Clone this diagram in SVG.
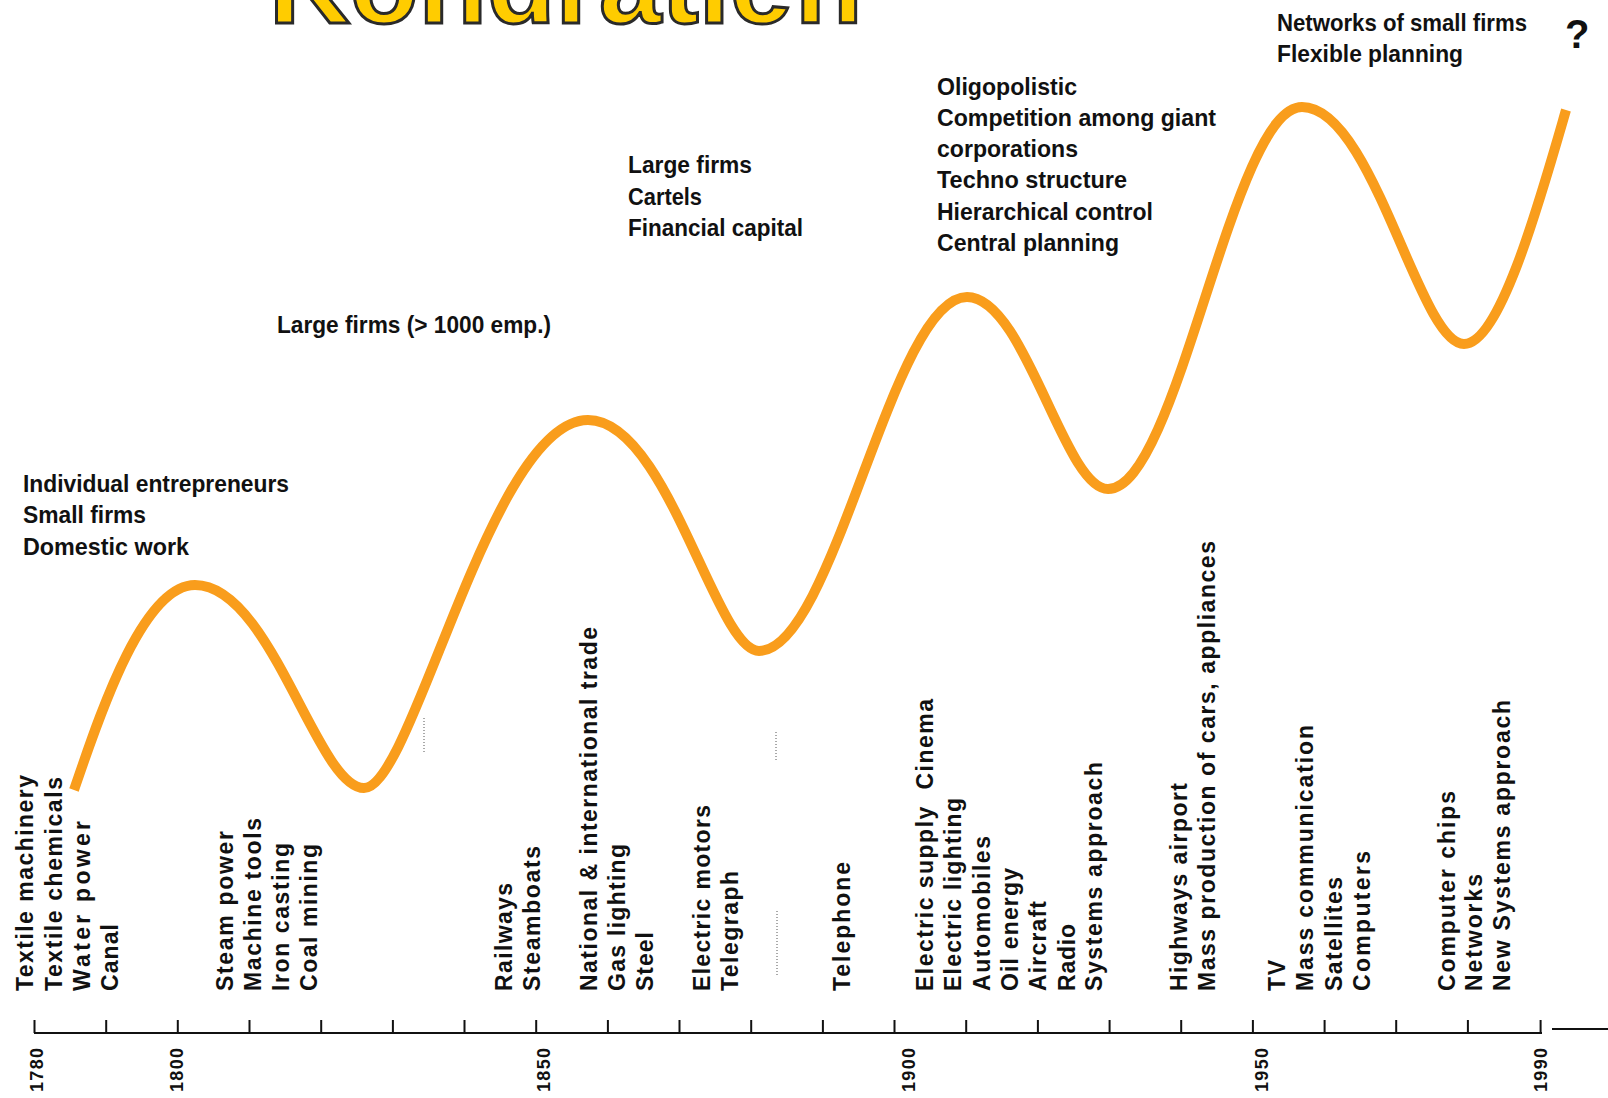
<svg xmlns="http://www.w3.org/2000/svg" width="1608" height="1098" viewBox="0 0 1608 1098">
  <style>
    .lbl { font-family: "Liberation Sans", Arial, sans-serif; font-weight: bold; font-size: 24px; fill: #111; }
    .q { font-family: "Liberation Sans", Arial, sans-serif; font-weight: bold; font-size: 40px; fill: #111; }
    .vl { font-family: "Liberation Sans", Arial, sans-serif; font-weight: bold; font-size: 23px; fill: #111; white-space: pre; }
    .yr { font-family: "Liberation Sans", Arial, sans-serif; font-weight: bold; font-size: 18px; fill: #111; }
    .title { font-family: "Liberation Sans", Arial, sans-serif; font-weight: 900; font-size: 112px; fill: #FFCC00; stroke: #2a2a2a; stroke-width: 3px; }
    .wave { fill: none; stroke: #F99D1C; stroke-width: 10; stroke-linejoin: round; }
    .axis { stroke: #111; stroke-width: 2; fill: none; }
    .dots { stroke: #555; stroke-width: 1; stroke-dasharray: 1 2; }
  </style>
  <rect width="1608" height="1098" fill="#ffffff"/>

  <!-- heading, mostly above the top edge -->
  <g id="title">
    <text class="title" x="269" y="23" textLength="598" lengthAdjust="spacingAndGlyphs">Kondratieff</text>
  </g>

  <!-- long-wave curve, time axis and markers -->
  <g id="connectors">
    <path id="wave" class="wave" d="M 74 790 C 95 730, 140 585, 195 585 C 271 585, 317 788, 364 788 C 413 788, 491 420, 588 420 C 667 420, 716 651, 759 651 C 834 651, 892 297, 967 297 C 1025 297, 1064 489, 1108 489 C 1178 489, 1232 107, 1302 107 C 1373 107, 1419 344, 1464 344 C 1500 344, 1540 200, 1566 110"/>
    <g id="time-axis">
      <line class="axis" x1="34" y1="1033" x2="1542" y2="1033"/>
      <line class="axis" x1="1552" y1="1029" x2="1608" y2="1029" stroke-width="1.5"/>
      <path class="axis" d="M34.5 1020V1033 M106.2 1020V1033 M177.8 1020V1033 M249.5 1020V1033 M321.2 1020V1033 M392.9 1020V1033 M464.5 1020V1033 M536.2 1020V1033 M607.9 1020V1033 M679.5 1020V1033 M751.2 1020V1033 M822.9 1020V1033 M894.5 1020V1033 M966.2 1020V1033 M1037.9 1020V1033 M1109.6 1020V1033 M1181.2 1020V1033 M1252.9 1020V1033 M1324.6 1020V1033 M1396.2 1020V1033 M1467.9 1020V1033 M1540.6 1020V1033"/>
    </g>
    <g id="dotted-markers">
      <line class="dots" x1="424" y1="718" x2="424" y2="753"/>
      <line class="dots" x1="776" y1="732" x2="776" y2="762"/>
      <line class="dots" x1="777" y1="911" x2="777" y2="977"/>
    </g>
  </g>

  <!-- organisation of firms per wave -->
  <g id="org-1780">
    <text class="lbl" x="23" y="492" textLength="266" lengthAdjust="spacingAndGlyphs">Individual entrepreneurs</text>
    <text class="lbl" x="23" y="523" textLength="123" lengthAdjust="spacingAndGlyphs">Small firms</text>
    <text class="lbl" x="23" y="555" textLength="166" lengthAdjust="spacingAndGlyphs">Domestic work</text>
  </g>
  <g id="org-1830">
    <text class="lbl" x="277" y="333" textLength="274" lengthAdjust="spacingAndGlyphs">Large firms (&gt; 1000 emp.)</text>
  </g>
  <g id="org-1880">
    <text class="lbl" x="628" y="173" textLength="124" lengthAdjust="spacingAndGlyphs">Large firms</text>
    <text class="lbl" x="628" y="205" textLength="74" lengthAdjust="spacingAndGlyphs">Cartels</text>
    <text class="lbl" x="628" y="236" textLength="175" lengthAdjust="spacingAndGlyphs">Financial capital</text>
  </g>
  <g id="org-1930">
    <text class="lbl" x="937" y="95" textLength="140" lengthAdjust="spacingAndGlyphs">Oligopolistic</text>
    <text class="lbl" x="937" y="126" textLength="279" lengthAdjust="spacingAndGlyphs">Competition among giant</text>
    <text class="lbl" x="937" y="157" textLength="141" lengthAdjust="spacingAndGlyphs">corporations</text>
    <text class="lbl" x="937" y="188" textLength="190" lengthAdjust="spacingAndGlyphs">Techno structure</text>
    <text class="lbl" x="937" y="220" textLength="216" lengthAdjust="spacingAndGlyphs">Hierarchical control</text>
    <text class="lbl" x="937" y="251" textLength="182" lengthAdjust="spacingAndGlyphs">Central planning</text>
  </g>
  <g id="org-1990">
    <text class="lbl" x="1277" y="31" textLength="250" lengthAdjust="spacingAndGlyphs">Networks of small firms</text>
    <text class="lbl" x="1277" y="62" textLength="186" lengthAdjust="spacingAndGlyphs">Flexible planning</text>
    <text class="q" x="1565" y="48">?</text>
  </g>

  <!-- key technologies, read bottom to top -->
  <g id="tech-1780">
    <text class="vl" transform="translate(33 991) rotate(-90)" textLength="216">Textile machinery</text>
    <text class="vl" transform="translate(62 991) rotate(-90)" textLength="214">Textile chemicals</text>
    <text class="vl" transform="translate(90 991) rotate(-90)" textLength="170">Water power</text>
    <text class="vl" transform="translate(118 991) rotate(-90)" textLength="67">Canal</text>
  </g>
  <g id="tech-1810">
    <text class="vl" transform="translate(233 991) rotate(-90)" textLength="160">Steam power</text>
    <text class="vl" transform="translate(261 991) rotate(-90)" textLength="173">Machine tools</text>
    <text class="vl" transform="translate(289 991) rotate(-90)" textLength="148">Iron casting</text>
    <text class="vl" transform="translate(317 991) rotate(-90)" textLength="147">Coal mining</text>
  </g>
  <g id="tech-1845">
    <text class="vl" transform="translate(512 991) rotate(-90)" textLength="108">Railways</text>
    <text class="vl" transform="translate(540 991) rotate(-90)" textLength="145">Steamboats</text>
  </g>
  <g id="tech-1855">
    <text class="vl" transform="translate(597 991) rotate(-90)" textLength="364">National &amp; international trade</text>
    <text class="vl" transform="translate(625 991) rotate(-90)" textLength="147">Gas lighting</text>
    <text class="vl" transform="translate(653 991) rotate(-90)" textLength="59">Steel</text>
  </g>
  <g id="tech-1870">
    <text class="vl" transform="translate(710 991) rotate(-90)" textLength="186">Electric motors</text>
    <text class="vl" transform="translate(738 991) rotate(-90)" textLength="120">Telegraph</text>
  </g>
  <g id="tech-1890">
    <text class="vl" transform="translate(850 991) rotate(-90)" textLength="129">Telephone</text>
  </g>
  <g id="tech-1900">
    <text class="vl" transform="translate(933 991) rotate(-90)" textLength="292">Electric supply  Cinema</text>
    <text class="vl" transform="translate(961 991) rotate(-90)" textLength="193">Electric lighting</text>
    <text class="vl" transform="translate(990 991) rotate(-90)" textLength="155">Automobiles</text>
    <text class="vl" transform="translate(1018 991) rotate(-90)" textLength="123">Oil energy</text>
    <text class="vl" transform="translate(1046 991) rotate(-90)" textLength="90">Aircraft</text>
    <text class="vl" transform="translate(1075 991) rotate(-90)" textLength="67">Radio</text>
    <text class="vl" transform="translate(1102 991) rotate(-90)" textLength="229">Systems approach</text>
  </g>
  <g id="tech-1940">
    <text class="vl" transform="translate(1187 991) rotate(-90)" textLength="208">Highways airport</text>
    <text class="vl" transform="translate(1215 991) rotate(-90)" textLength="450">Mass production of cars, appliances</text>
  </g>
  <g id="tech-1950">
    <text class="vl" transform="translate(1285 991) rotate(-90)" textLength="31">TV</text>
    <text class="vl" transform="translate(1313 991) rotate(-90)" textLength="266">Mass communication</text>
    <text class="vl" transform="translate(1342 991) rotate(-90)" textLength="114">Satellites</text>
    <text class="vl" transform="translate(1370 991) rotate(-90)" textLength="140">Computers</text>
  </g>
  <g id="tech-1980">
    <text class="vl" transform="translate(1455 991) rotate(-90)" textLength="200">Computer chips</text>
    <text class="vl" transform="translate(1482 991) rotate(-90)" textLength="117">Networks</text>
    <text class="vl" transform="translate(1510 991) rotate(-90)" textLength="291">New Systems approach</text>
  </g>

  <!-- year scale -->
  <g id="years">
    <text class="yr" transform="translate(43 1092) rotate(-90)" textLength="44">1780</text>
    <text class="yr" transform="translate(183 1092) rotate(-90)" textLength="44">1800</text>
    <text class="yr" transform="translate(550 1092) rotate(-90)" textLength="44">1850</text>
    <text class="yr" transform="translate(915 1092) rotate(-90)" textLength="44">1900</text>
    <text class="yr" transform="translate(1268 1092) rotate(-90)" textLength="44">1950</text>
    <text class="yr" transform="translate(1547 1092) rotate(-90)" textLength="44">1990</text>
  </g>
</svg>
